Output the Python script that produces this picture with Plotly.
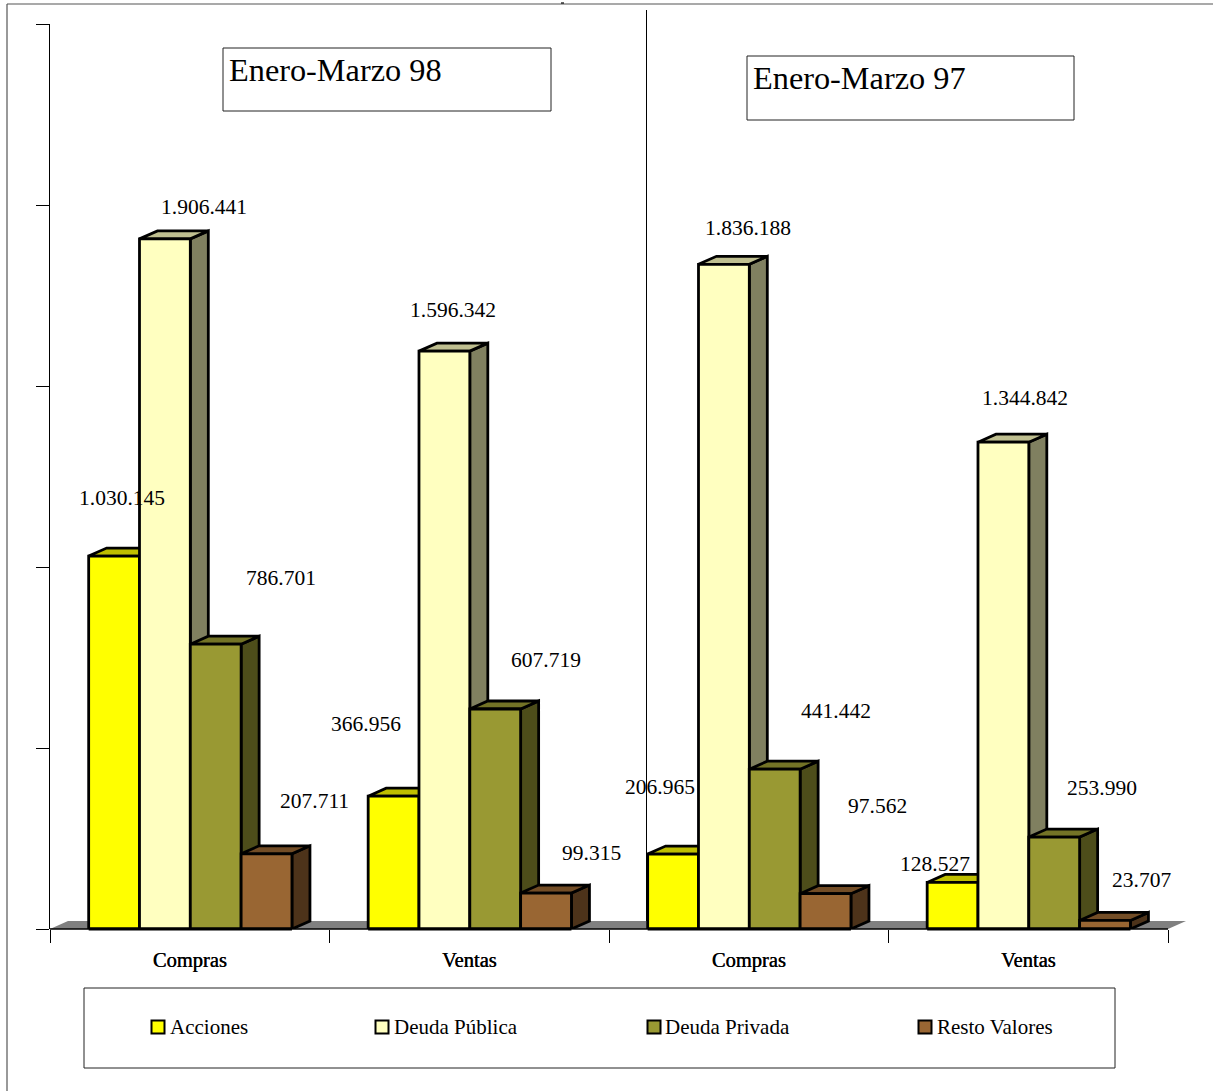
import plotly.graph_objects as go

W, H = 1213, 1091
CATEGORIES = ["Compras", "Ventas", "Compras", "Ventas"]
SERIES = ["Acciones", "Deuda Pública", "Deuda Privada", "Resto Valores"]
ACCIONES = [1030145, 366956, 206965, 128527]
DEUDA_PUBLICA = [1906441, 1596342, 1836188, 1344842]
DEUDA_PRIVADA = [786701, 607719, 441442, 253990]
RESTO_VALORES = [207711, 99315, 97562, 23707]
VALUES = [ACCIONES, DEUDA_PUBLICA, DEUDA_PRIVADA, RESTO_VALORES]
FRONT = ["#FFFF00", "#FFFFC0", "#999933", "#996633"]
TOP = ["#BFBF00", "#BFBF90", "#737326", "#734D26"]
SIDE = ["#808000", "#808060", "#4D4D1A", "#4D331A"]
TITLES = ["Enero-Marzo 98", "Enero-Marzo 97"]
YTICKS = [0, 500000, 1000000, 1500000, 2000000, 2500000]

# free-placed data label offsets in px, relative to each bar's front top centre
LABEL_DX = [[8, -28, -13, -18], [39, 9, 24, 22], [65, 51, 61, 48], [48, 45, 52, 36]]
LABEL_DY = [[58, 72, 67, 18], [32, 41, 36, 44], [66, 49, 58, 49], [53, 40, 88, 40]]

X0, X1, Y0, Y1 = 50, 1168, 929, 24          # plot area px
CATW = (X1 - X0) / 4
YUNIT = (Y0 - Y1) / 2500000
DEPTH_X = 18 / CATW                         # 3D depth in data units
DEPTH_Y = 8 / YUNIT
BARW = 1 / 5.5
GAP = 0.75 * BARW + 0.002
SERIF = "Liberation Serif, Times New Roman, serif"


def px(x):
    return x / W


def py(y):
    return 1 - y / H


def polys(shapes):
    xs, ys = [], []
    for sx, sy in shapes:
        xs += sx + [None]
        ys += sy + [None]
    return xs, ys


fig = go.Figure()

# floor
n = len(CATEGORIES)
fig.add_trace(go.Scatter(
    x=[0, n, n + DEPTH_X, DEPTH_X, 0], y=[0, 0, DEPTH_Y, DEPTH_Y, 0],
    mode="lines", fill="toself", fillcolor="#808080", line=dict(width=0),
    hoverinfo="skip", showlegend=False))

annotations = []
for s, vals in enumerate(VALUES):
    side, top, front = [], [], []
    for c, v in enumerate(vals):
        a = c + GAP + s * BARW
        b = a + BARW
        front.append(([a, b, b, a, a], [0, 0, v, v, 0]))
        top.append(([a, b, b + DEPTH_X, a + DEPTH_X, a], [v, v, v + DEPTH_Y, v + DEPTH_Y, v]))
        side.append(([b, b + DEPTH_X, b + DEPTH_X, b, b], [0, DEPTH_Y, v + DEPTH_Y, v, 0]))
        annotations.append(dict(
            x=(a + b) / 2, y=v, xref="x", yref="y", text=f"{v:,}".replace(",", "."),
            showarrow=False, xanchor="center", yanchor="middle",
            xshift=LABEL_DX[s][c], yshift=LABEL_DY[s][c],
            font=dict(family=SERIF, size=21.5, color="#000")))
    for faces, col in ((side, SIDE[s]), (top, TOP[s]), (front, FRONT[s])):
        xs, ys = polys(faces)
        fig.add_trace(go.Scatter(
            x=xs, y=ys, mode="lines", fill="toself", fillcolor=col,
            line=dict(color="#000", width=2.8), name=SERIES[s],
            hoverinfo="skip", showlegend=False))

shapes = []


def line(x0, y0, x1, y1, color="#000", width=1, layer="below"):
    shapes.append(dict(type="line", xref="paper", yref="paper", x0=px(x0), y0=py(y0),
                       x1=px(x1), y1=py(y1), line=dict(color=color, width=width), layer=layer))


def rect(x0, y0, x1, y1, fill=None, color="#222", width=1, layer="below"):
    shapes.append(dict(type="rect", xref="paper", yref="paper", x0=px(x0), y0=py(y0),
                       x1=px(x1), y1=py(y1), line=dict(color=color, width=width),
                       fillcolor=fill if fill else "rgba(0,0,0,0)", layer=layer))


# outer frame
line(7, 4, 7, H, "#555", 1.2)
line(7, 4, W, 4, "#555", 1.2)
line(561, 3, 564, 3, "#000", 1.2)
# divider and baseline
line(646.5, 10, 646.5, Y0, "#000", 1)
line(X0, Y0, X1, Y0, "#000", 1.4, layer="above")
# heavy bar bottoms along the baseline
for c in range(n):
    a = X0 + (c + GAP) * CATW
    line(a, Y0, a + 4 * BARW * CATW, Y0, "#000", 2.8, layer="above")

# title boxes
for title, (l, t, r, b), ty in zip(TITLES, [(223, 48, 551, 111), (747, 56, 1074, 120)], [70, 78]):
    rect(l, t, r, b)
    annotations.append(dict(x=px(l + 4), y=py(ty), xref="paper", yref="paper", text=title,
                            showarrow=False, xanchor="left", yanchor="middle",
                            font=dict(family=SERIF, size=32.3, color="#000")))

# legend
rect(84, 988, 1115, 1068)
for name, col, sx, tx in zip(SERIES, FRONT, [151.5, 375.5, 647.5, 918.5], [168, 392, 663, 935]):
    rect(sx, 1020.5, sx + 13, 1033.5, fill=col, color="#000", width=2)
    annotations.append(dict(x=px(tx), y=py(1027), xref="paper", yref="paper", text=name,
                            showarrow=False, xanchor="left", yanchor="middle",
                            font=dict(family=SERIF, size=21, color="#000")))

fig.update_layout(
    width=W, height=H, autosize=False,
    margin=dict(l=0, r=0, t=0, b=0, pad=0),
    paper_bgcolor="#FFFFFF", plot_bgcolor="#FFFFFF",
    showlegend=False, shapes=shapes, annotations=annotations,
    xaxis=dict(
        domain=[px(X0), px(X1 + 18)], range=[0, n + DEPTH_X], showgrid=False, zeroline=False,
        showline=False,
        tickmode="array", tickvals=[i + 0.5 for i in range(n)], ticktext=CATEGORIES,
        ticks="", ticklabelstandoff=16,
        tickfont=dict(family=SERIF, size=20.5, color="#000", shadow="0.4px 0 0 #000"),
        minor=dict(tickmode="array", tickvals=list(range(n + 1)), ticks="outside",
                   ticklen=13, tickwidth=1, tickcolor="#000", showgrid=False),
    ),
    yaxis=dict(
        domain=[py(Y0), py(Y1)], range=[0, 2500000], showgrid=False, zeroline=False,
        showline=True, linecolor="#000", linewidth=1, tickmode="array", tickvals=YTICKS,
        ticks="outside", ticklen=13, tickwidth=1, tickcolor="#000", showticklabels=False,
    ),
)

fig.write_html("out.html", config={"displayModeBar": False},
               post_script="document.body.style.margin='0';document.body.style.overflow='hidden';")
